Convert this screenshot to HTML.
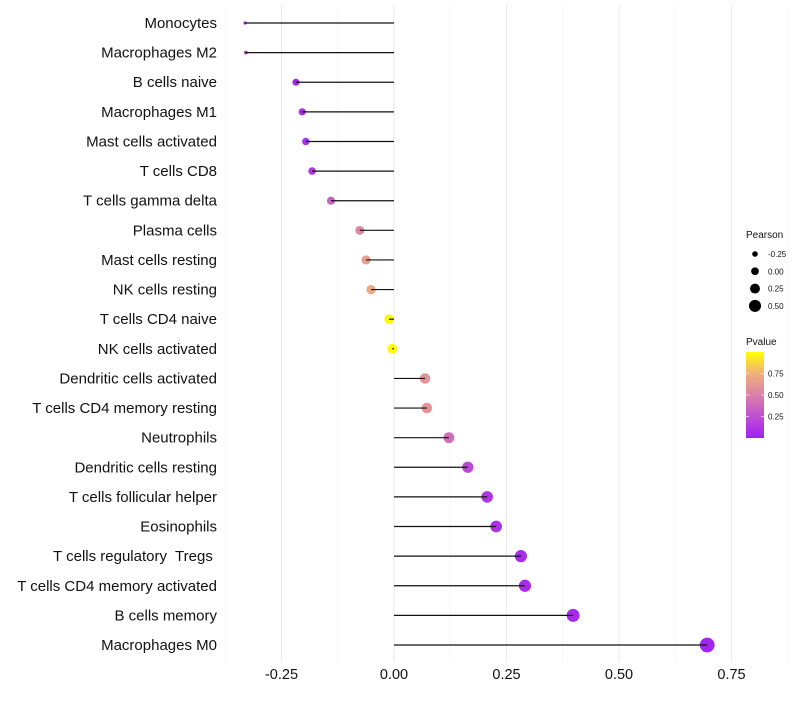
<!DOCTYPE html>
<html><head><meta charset="utf-8"><style>
body{margin:0;background:#fff;font-family:"Liberation Sans",sans-serif;}
svg text{font-family:"Liberation Sans",sans-serif;white-space:pre;}
</style></head><body>
<svg id="chart" width="800" height="700" xmlns="http://www.w3.org/2000/svg"></svg>
<script>
const categories=["Monocytes","Macrophages M2","B cells naive","Macrophages M1","Mast cells activated","T cells CD8","T cells gamma delta","Plasma cells","Mast cells resting","NK cells resting","T cells CD4 naive","NK cells activated","Dendritic cells activated","T cells CD4 memory resting","Neutrophils","Dendritic cells resting","T cells follicular helper","Eosinophils","T cells regulatory  Tregs ","T cells CD4 memory activated","B cells memory","Macrophages M0"];
const pearson=[-0.331,-0.329,-0.218,-0.204,-0.196,-0.182,-0.14,-0.076,-0.062,-0.051,-0.011,-0.004,0.069,0.073,0.122,0.164,0.207,0.227,0.282,0.291,0.398,0.696];
const pvalue=[0.04,0.05,0.05,0.08,0.1,0.13,0.35,0.55,0.65,0.72,0.98,0.99,0.6,0.6,0.4,0.22,0.12,0.1,0.07,0.06,0.05,0.03];
const xTicks=[-0.25,0,0.25,0.5,0.75];
const xTickLabels=["-0.25","0.00","0.25","0.50","0.75"];
const sizeLegend=[-0.25,0,0.25,0.5];
const sizeLegendLabels=["-0.25","0.00","0.25","0.50"];
const pTicks=[0.25,0.5,0.75];

const svg=document.getElementById('chart');
const NS="http://www.w3.org/2000/svg";
function mk(tag,attrs,parent){const e=document.createElementNS(NS,tag);for(const k in attrs)e.setAttribute(k,attrs[k]);(parent||svg).appendChild(e);return e;}
const x=v=>394+450*v;
const y=i=>23+i*(622/21);
const r=v=>1.6+5.8*Math.sqrt(Math.max(0,(v+0.331)/1.027));
const stops=[[0,[160,32,240]],[0.25,[190,80,210]],[0.5,[218,128,168]],[0.75,[240,176,122]],[1,[255,255,0]]];
function col(p){p=Math.max(0,Math.min(1,p));for(let i=1;i<stops.length;i++){if(p<=stops[i][0]){const a=stops[i-1],b=stops[i];const t=(p-a[0])/(b[0]-a[0]);const c=a[1].map((v,k)=>Math.round(v+(b[1][k]-v)*t));return `rgb(${c.join(',')})`;}}return 'rgb(255,255,0)';}

// grid
for(let k=-3;k<=7;k++){
  const g=k*0.125;
  const gl=mk('line',{x1:x(g),x2:x(g),y1:5,y2:662,stroke:k%2===0?'#ebebeb':'#f3f3f3','stroke-width':k%2===0?1:0.6});
  
  
}
// ticks
xTicks.forEach((t,i)=>{
  const tx=mk('text',{x:x(t),y:679,'font-size':14.5,'text-anchor':'middle',fill:'#111'});
  tx.textContent=xTickLabels[i];
  
  
});
categories.forEach((c,i)=>{
  const t=mk('text',{x:217,y:y(i)+5,'font-size':15,'text-anchor':'end',fill:'#111'});
  t.textContent=c;
  
  
  const pt=mk('circle',{cx:x(pearson[i]),cy:y(i),r:r(pearson[i]),fill:col(pvalue[i])});
  
  
  const ln=mk('line',{x1:x(0),x2:x(pearson[i]),y1:y(i),y2:y(i),stroke:'#111','stroke-width':1.2});
  
  
});
// size legend
const lt=mk('text',{x:746,y:238,'font-size':10,fill:'#111'});lt.textContent='Pearson';


sizeLegend.forEach((v,i)=>{
  const cy=254+i*17.3;
  const c=mk('circle',{cx:755,cy:cy,r:2.8+1.2*i*0.9,fill:'#000'});
  
  
  const t=mk('text',{x:768,y:cy+3,'font-size':8,fill:'#111'});t.textContent=sizeLegendLabels[i];
  
  
});
// color legend
const pt2=mk('text',{x:746,y:345,'font-size':10,fill:'#111'});pt2.textContent='Pvalue';


const defs=mk('defs',{});const lg=mk('linearGradient',{id:'pg',x1:0,y1:1,x2:0,y2:0},defs);
stops.forEach(s=>mk('stop',{offset:s[0],'stop-color':col(s[0])},lg));
const bar=mk('rect',{x:746,y:352,width:18,height:86,fill:'url(#pg)'});


pTicks.forEach(p=>{
  const yy=438-86*p;
  mk('line',{x1:746,x2:749,y1:yy,y2:yy,stroke:'#fff','stroke-width':0.6});
  mk('line',{x1:761,x2:764,y1:yy,y2:yy,stroke:'#fff','stroke-width':0.6});
  const t=mk('text',{x:768,y:yy+3,'font-size':8,fill:'#111'});t.textContent=p.toFixed(2);
  
  
});
</script>
</body></html>
